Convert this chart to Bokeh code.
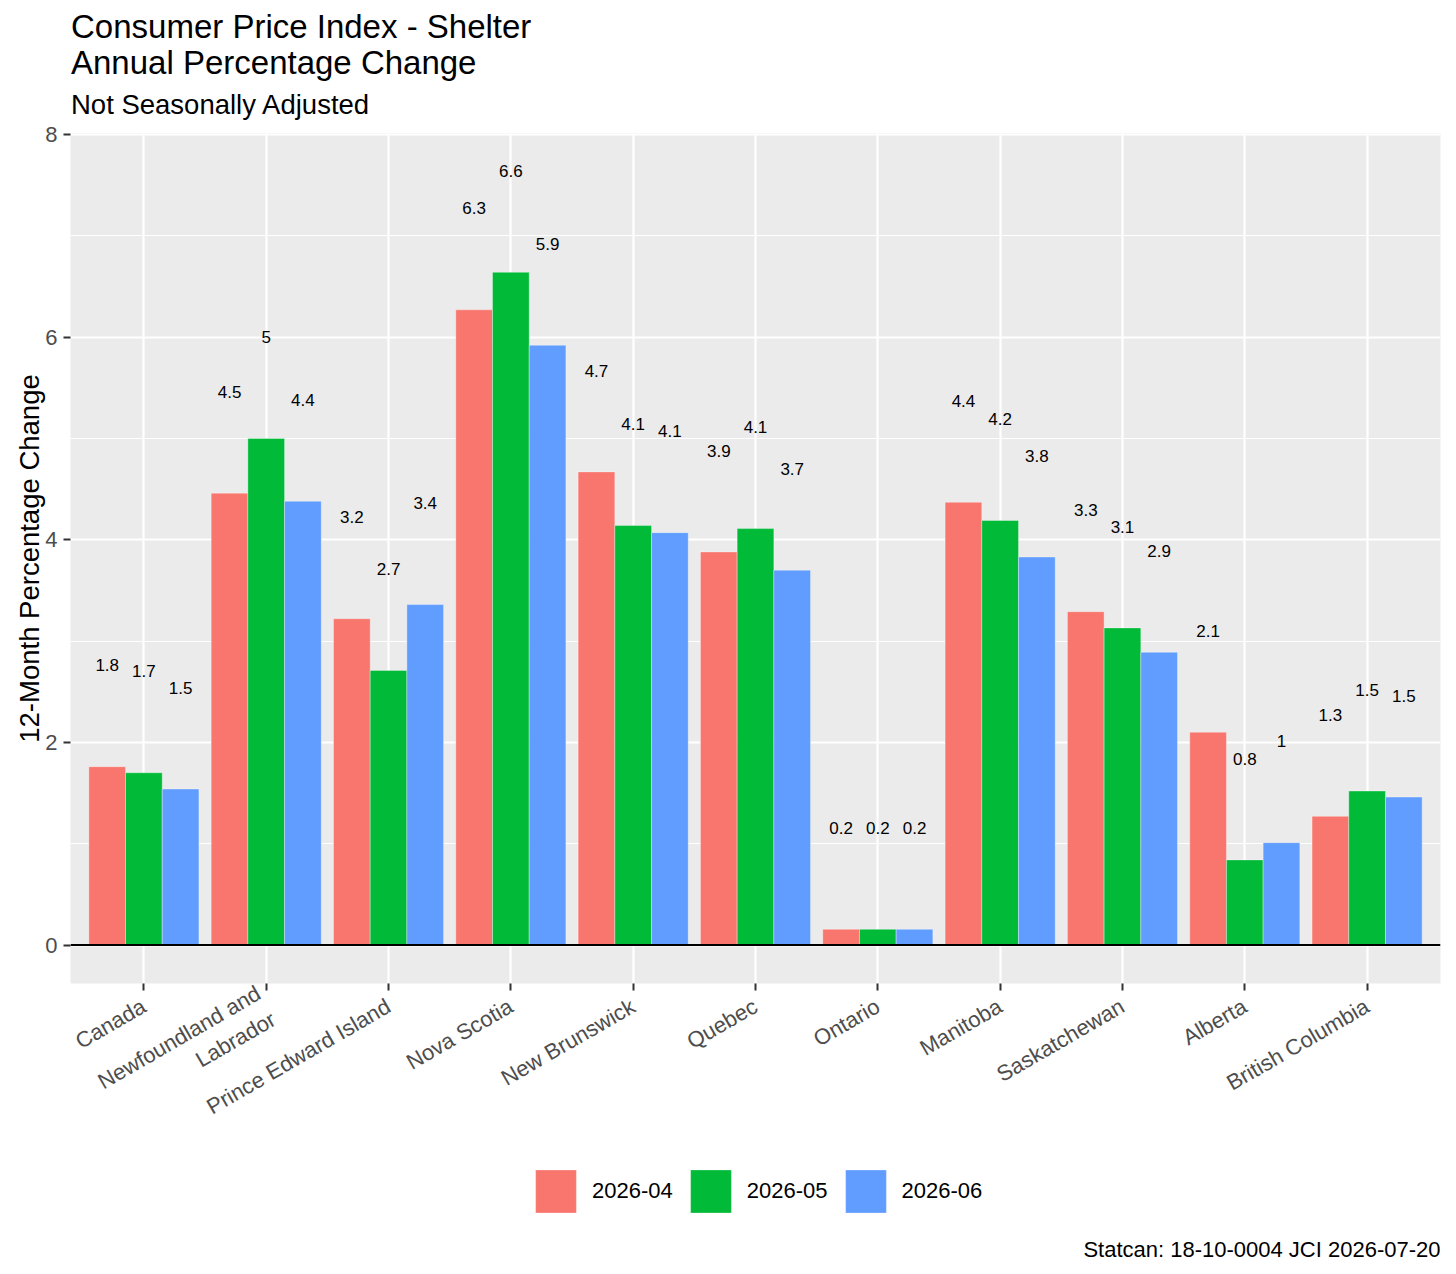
import math
from bokeh.plotting import figure
from bokeh.layouts import column
from bokeh.models import (ColumnDataSource, FactorRange, FixedTicker, Label,
                          Legend, LegendItem, Span)
from bokeh.transform import dodge
from bokeh.core.properties import value
from bokeh.embed import file_html
from bokeh.resources import INLINE

# ---------------- data ----------------
regions = ["Canada", "Newfoundland and\nLabrador", "Prince Edward Island",
           "Nova Scotia", "New Brunswick", "Quebec", "Ontario", "Manitoba",
           "Saskatchewan", "Alberta", "British Columbia"]
months = ["2026-04", "2026-05", "2026-06"]
v_2026_04 = [1.76, 4.46, 3.22, 6.27, 4.67, 3.88, 0.155, 4.37, 3.29, 2.10, 1.27]
v_2026_05 = [1.70, 5.00, 2.71, 6.64, 4.14, 4.11, 0.155, 4.19, 3.13, 0.84, 1.52]
v_2026_06 = [1.54, 4.38, 3.36, 5.92, 4.07, 3.70, 0.155, 3.83, 2.89, 1.01, 1.46]
series_colors = ["#F8766D", "#00BA38", "#619CFF"]
y_ticks = [0, 2, 4, 6, 8]
y_minor_ticks = [1, 3, 5, 7]
label_nudge = 1.0

title_line1 = "Consumer Price Index - Shelter"
title_line2 = "Annual Percentage Change"
subtitle = "Not Seasonally Adjusted"
y_title = "12-Month Percentage Change"
caption = "Statcan: 18-10-0004 JCI 2026-07-20"

FONT = "Liberation Sans"


def fmt(v):
    s = f"{v:.1f}"
    if s.endswith(".0"):
        s = s[:-2]
    return s


series = [v_2026_04, v_2026_05, v_2026_06]
keys = ["v04", "v05", "v06"]
data = {"region": regions}
for k, vals in zip(keys, series):
    data[k] = vals
    data[k + "_lab"] = [fmt(v) for v in vals]
src = ColumnDataSource(data)

W = 1456
H_HEAD, H_MAIN, H_FOOT = 122, 1028, 124
FRAME_L, FRAME_R = 70, 1440          # frames of all rows are aligned
FW = FRAME_R - FRAME_L


def blank(h):
    f = figure(width=W, height=h, title=None, x_range=(0, 1), y_range=(0, 1),
               x_axis_location=None, y_axis_location=None,
               output_backend="svg", toolbar_location=None,
               min_border_left=FRAME_L, min_border_right=W - FRAME_R,
               min_border_top=0, min_border_bottom=0)
    f.grid.visible = False
    f.outline_line_color = None
    f.background_fill_color = "white"
    f.border_fill_color = "white"
    return f


def put(fig, x, y, text, size, align="left"):
    fig.add_layout(Label(x=x, y=y, x_units="screen", y_units="screen",
                         text=text, text_font=FONT, text_font_size=size,
                         text_color="black", text_baseline="alphabetic",
                         text_align=align))


# ---------------- header (titles) ----------------
head = blank(H_HEAD)
put(head, 0.5, 96, title_line1, "33px")
put(head, 0.5, 60, title_line2, "33px")
put(head, 0.5, 18, subtitle, "27.5px")

# ---------------- main plot ----------------
p = figure(width=W, height=H_MAIN,
           x_range=FactorRange(factors=regions, range_padding=0.1,
                               range_padding_units="absolute"),
           y_range=(-0.38, 8.01),
           output_backend="svg", toolbar_location=None,
           min_border_left=FRAME_L, min_border_right=W - FRAME_R,
           min_border_top=133 - H_HEAD, min_border_bottom=H_HEAD + H_MAIN - 983)
p.background_fill_color = "#EBEBEB"
p.border_fill_color = "white"
p.outline_line_color = None

p.grid.grid_line_color = "white"
p.grid.grid_line_width = 2.2
p.yaxis.ticker = FixedTicker(ticks=y_ticks, minor_ticks=y_minor_ticks)
p.ygrid.minor_grid_line_color = "white"
p.ygrid.minor_grid_line_width = 1.1

offsets = [-0.3, 0.0, 0.3]
for k, off, col in zip(keys, offsets, series_colors):
    p.vbar(x=dodge("region", off, range=p.x_range), top=k, bottom=0,
           width=0.3, source=src, fill_color=col,
           line_color="white", line_alpha=0.35, line_width=1)

p.add_layout(Span(location=0, dimension="width", line_color="black",
                  line_width=2))

for k, off in zip(keys, offsets):
    p.text(x=dodge("region", off, range=p.x_range), y=dodge(k, label_nudge),
           text=k + "_lab", source=src, text_font=value(FONT),
           text_font_size="17px", text_align="center",
           text_baseline="middle", text_color="black")

for ax in (p.xaxis, p.yaxis):
    ax.axis_line_color = None
    ax.major_tick_in = 0
    ax.major_tick_out = 7
    ax.major_tick_line_color = "#333333"
    ax.major_tick_line_width = 2
    ax.minor_tick_line_color = None
    ax.major_label_text_font = FONT
    ax.major_label_text_font_size = "22px"
    ax.major_label_text_color = "#4D4D4D"

p.xaxis.major_label_orientation = math.pi / 6
p.xaxis.major_label_standoff = 14
p.yaxis.major_label_standoff = 6
p.yaxis.axis_label = y_title
p.yaxis.axis_label_text_font = FONT
p.yaxis.axis_label_text_font_size = "27.5px"
p.yaxis.axis_label_text_font_style = "normal"
p.yaxis.axis_label_text_color = "black"
p.yaxis.axis_label_standoff = -3

# ---------------- footer (legend + caption) ----------------
foot = blank(H_FOOT)
# legend-key renderers: degenerate (zero-size) bars far outside the view,
# used only to supply the key swatches of the legend
key_renderers = [foot.vbar(x=[0.5], top=[50], bottom=[50], width=0,
                           fill_color=col, line_color="white",
                           line_alpha=0.35, line_width=1)
                 for col in series_colors]
legend = Legend(items=[LegendItem(label=m, renderers=[r])
                       for m, r in zip(months, key_renderers)],
                location=(460, 56.5), orientation="horizontal",
                glyph_width=51, glyph_height=54, label_standoff=11,
                spacing=12, padding=0, margin=0,
                background_fill_alpha=0, border_line_color=None,
                label_text_font=FONT, label_text_font_size="22px",
                label_text_color="black")
foot.add_layout(legend)
put(foot, FW, 25, caption, "22px", align="right")

layout = column(head, p, foot, spacing=0)
open("out.html", "w").write(file_html(layout, INLINE))
